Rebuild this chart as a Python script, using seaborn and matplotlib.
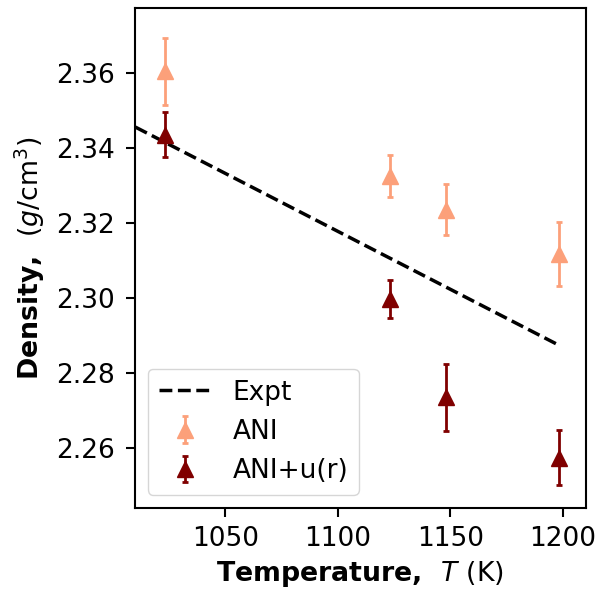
import numpy as np
import pandas as pd
import matplotlib
matplotlib.use("Agg")
import matplotlib.pyplot as plt
import seaborn as sns

# Experimental density line (endpoints of the linear fit)
expt_T = [1010, 1197]
expt_rho = [2.3456, 2.2878]

# Simulated densities
sim_T = [1023, 1123, 1148, 1198]
ani_rho = [2.3605, 2.3326, 2.3236, 2.3117]
ani_err = [0.0089, 0.0056, 0.0067, 0.0085]
aniu_rho = [2.3435, 2.2997, 2.2735, 2.2574]
aniu_err = [0.0060, 0.0050, 0.0089, 0.0073]

ani_color = "#fca07a"
aniu_color = "#800000"

sns.set_style("ticks")
plt.rcParams["font.family"] = ["DejaVu Sans"]
for key in ["axes.edgecolor", "xtick.color", "ytick.color", "text.color", "axes.labelcolor"]:
    plt.rcParams[key] = "black"
plt.rcParams["axes.linewidth"] = 1.5

fig, ax = plt.subplots(figsize=(6.07, 5.89), dpi=100)

expt_df = pd.DataFrame({"T": expt_T, "rho": expt_rho})
sns.lineplot(data=expt_df, x="T", y="rho", ax=ax, color="black",
             linestyle="--", linewidth=2.5, label="Expt")

ax.errorbar(sim_T, ani_rho, yerr=ani_err, fmt="^", color=ani_color,
            markersize=12, elinewidth=2, capsize=2, capthick=2, label="ANI")
ax.errorbar(sim_T, aniu_rho, yerr=aniu_err, fmt="^", color=aniu_color,
            markersize=12, elinewidth=2, capsize=2, capthick=2, label="ANI+u(r)")

ax.set_xlim(1009.7, 1210.1)
ax.set_ylim(2.2441, 2.3773)
ax.set_xticks([1050, 1100, 1150, 1200])
ax.set_yticks([2.26, 2.28, 2.30, 2.32, 2.34, 2.36])
ax.tick_params(axis="x", labelsize=19, length=6.5, width=1.5, pad=6.5)
ax.tick_params(axis="y", labelsize=19, length=6.5, width=1.5, pad=7.5)

ax.set_xlabel(r"Temperature,  $T\ \mathrm{(K)}$", fontsize=19.3,
              fontweight="bold", labelpad=5)
ax.set_ylabel(r"Density,  $(g/\mathrm{cm}^3)$", fontsize=19.3,
              fontweight="bold", labelpad=7)

ax.legend(loc="lower left", fontsize=19, handlelength=2.0)

fig.subplots_adjust(left=0.222, right=0.965, top=0.986, bottom=0.138)
fig.savefig("out.png", dpi=100)
